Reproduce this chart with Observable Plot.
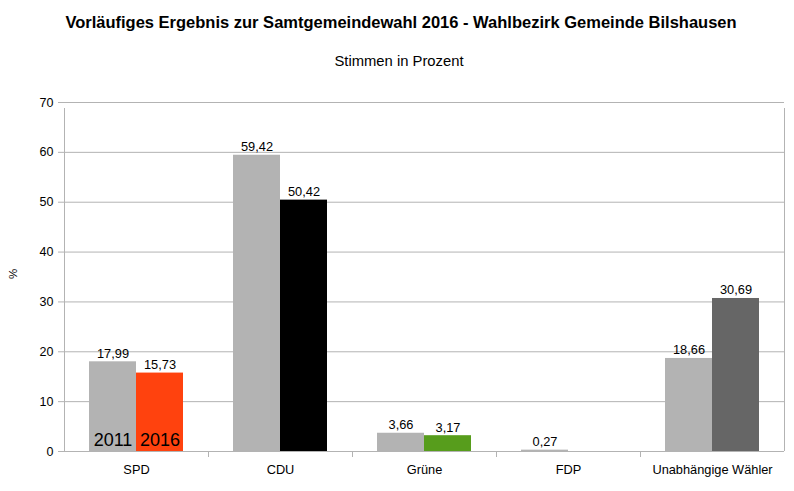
<!DOCTYPE html>
<html>
<head>
<meta charset="utf-8">
<script src="https://cdn.jsdelivr.net/npm/d3@7"></script>
<script src="https://cdn.jsdelivr.net/npm/@observablehq/plot@0.6"></script>
<style>
  body { margin: 0; background: #fff; font-family: "Liberation Sans", Arial, sans-serif; }
  #wrap { position: relative; width: 794px; height: 491px; overflow: hidden; }
  #title { position: absolute; top: 12px; left: 4px; width: 794px; text-align: center; font-size: 16.5px; line-height: 20px; font-weight: bold; color: #000; white-space: nowrap; }
  #subtitle { position: absolute; top: 52px; left: 2px; width: 794px; text-align: center; font-size: 14.8px; line-height: 18px; color: #000; }
  #chart { position: absolute; top: 80px; left: 0; }
</style>
</head>
<body>
<div id="wrap">
  <div id="title">Vorläufiges Ergebnis zur Samtgemeindewahl 2016 - Wahlbezirk Gemeinde Bilshausen</div>
  <div id="subtitle">Stimmen in Prozent</div>
  <div id="chart"></div>
</div>
<script>
const parties = ["SPD", "CDU", "Grüne", "FDP", "Unabhängige Wähler"];
const values2011 = [17.99, 59.42, 3.66, 0.27, 18.66];
const values2016 = [15.73, 50.42, 3.17, null, 30.69];
const colors2016 = ["#ff420e", "#000000", "#579d1c", null, "#666666"];
const color2011 = "#b3b3b3";
const years = ["2011", "2016"];
const yTicks = [0, 10, 20, 30, 40, 50, 60, 70];
const yLabel = "%";

const W = 794, H = 411;
const mL = 64, mR = 10, mT = 22, mB = 40;
const band = (W - mL - mR) / parties.length; // 144
const half = band / 2;
const barW = 47;
const outer = (band - 2 * barW) / 2;

const d2011 = parties.map((p, i) => ({party: p, value: values2011[i], color: color2011}));
const d2016 = parties.map((p, i) => ({party: p, value: values2016[i], color: colors2016[i]})).filter(d => d.value != null);
const fmt = v => v.toFixed(2).replace(".", ",");
const font = "Liberation Sans, Arial, sans-serif";

const plot = Plot.plot({
  width: W, height: H,
  marginLeft: mL, marginRight: mR, marginTop: mT, marginBottom: mB,
  style: {fontFamily: font, fontSize: "12px", color: "#000", background: "#fff"},
  x: {domain: parties, padding: 0, label: null},
  y: {domain: [0, 70], label: null},
  marks: [
    Plot.gridY(yTicks, {stroke: "#b3b3b3", strokeOpacity: 1}),
    Plot.axisY(yTicks, {tickSize: 6, tickPadding: 5, stroke: "#b3b3b3", fill: "#000", fontSize: 12.5, label: null}),
    Plot.text([yLabel], {frameAnchor: "left", dx: -51, dy: 2, rotate: -90, fontSize: 11.5, fill: "#000"}),
    Plot.barY(d2011, {x: "party", y: "value", fill: "color", insetLeft: outer, insetRight: band - outer - barW}),
    Plot.barY(d2016, {x: "party", y: "value", fill: "color", insetLeft: outer + barW, insetRight: outer}),
    Plot.text(d2011, {x: "party", y: "value", text: d => fmt(d.value), dx: -barW / 2, dy: -4, lineAnchor: "bottom", fontSize: 12.8, fill: "#000"}),
    Plot.text(d2016, {x: "party", y: "value", text: d => fmt(d.value), dx: barW / 2, dy: -4, lineAnchor: "bottom", fontSize: 12.8, fill: "#000"}),
    Plot.text([years[0]], {x: () => parties[0], y: () => 0, dx: -barW / 2, dy: -6, lineAnchor: "bottom", fontSize: 18, fill: "#000"}),
    Plot.text([years[1]], {x: () => parties[0], y: () => 0, dx: barW / 2, dy: -6, lineAnchor: "bottom", fontSize: 18, fill: "#000"}),
    Plot.ruleX(parties.slice(1), {x: d => d, y1: 0, y2: 0, dx: -half, insetBottom: -6, stroke: "#b3b3b3"}),
    Plot.ruleX([parties[0]], {x: d => d, y1: 0, y2: 70, dx: -half, insetBottom: -6, stroke: "#b3b3b3"}),
    Plot.ruleX([parties[parties.length - 1]], {x: d => d, y1: 0, y2: 70, dx: half, insetBottom: -6, stroke: "#b3b3b3"}),
    Plot.ruleY([0], {stroke: "#b3b3b3"}),
    Plot.axisX({tickSize: 0, tickPadding: 13, fontSize: 12.8, fill: "#000", label: null})
  ]
});
document.getElementById("chart").appendChild(plot);
</script>
</body>
</html>
